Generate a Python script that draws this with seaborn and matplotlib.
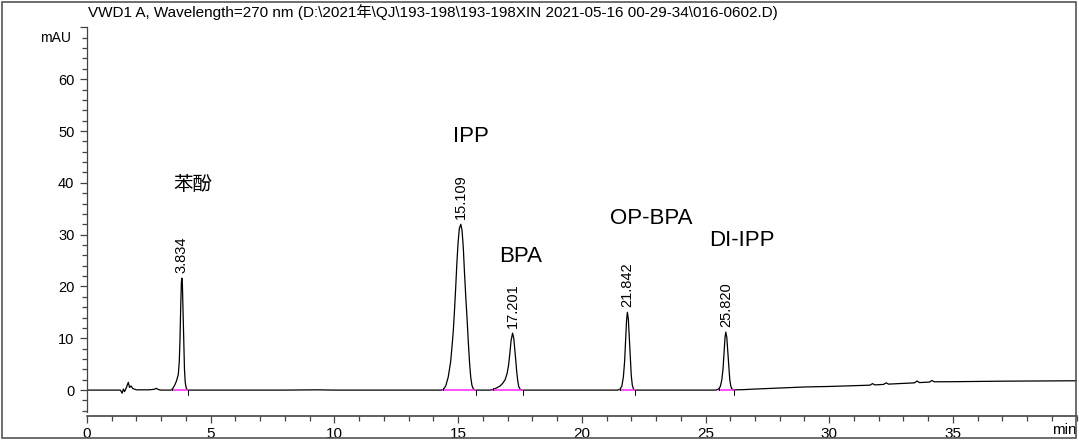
import matplotlib
matplotlib.use("Agg")
import matplotlib.pyplot as plt
import seaborn as sns
import pandas as pd
from matplotlib.ticker import MultipleLocator, FixedLocator
from matplotlib.patches import Rectangle

# ---------------- data ----------------
trace_time = [0.00, 1.00, 1.35, 1.42, 1.47, 1.52, 1.60, 1.67, 1.72, 1.78, 1.85, 2.00, 2.50, 2.72, 2.80, 2.88, 3.00,
              3.40, 3.48, 3.55, 3.62, 3.69, 3.73, 3.76, 3.79, 3.815, 3.834, 3.855, 3.88, 3.91, 3.94, 3.97, 4.01, 4.06,
              8.00, 9.30, 10.00,
              14.30, 14.40, 14.50, 14.60, 14.70, 14.80, 14.85, 14.90, 14.95, 15.00, 15.05, 15.109, 15.16, 15.21, 15.26,
              15.31, 15.36, 15.41, 15.46, 15.51, 15.56, 15.62, 15.70,
              16.30, 16.40, 16.55, 16.70, 16.80, 16.90, 16.98, 17.04, 17.09, 17.14, 17.201, 17.25, 17.29, 17.33, 17.37,
              17.41, 17.45, 17.50, 17.58,
              21.45, 21.55, 21.62, 21.68, 21.73, 21.77, 21.81, 21.842, 21.88, 21.92, 21.96, 22.00, 22.04, 22.09, 22.15,
              25.43, 25.53, 25.60, 25.66, 25.71, 25.75, 25.79, 25.820, 25.86, 25.90, 25.94, 25.98, 26.02, 26.07, 26.15,
              26.50, 27.00, 28.00, 29.00, 30.00, 31.00, 31.65, 31.75, 31.85, 32.20, 32.30, 32.40, 33.00, 33.45, 33.55,
              33.65, 34.05, 34.15, 34.25, 35.00, 36.00, 37.00, 38.00, 39.00, 40.00]
trace_mau = [0.00, 0.00, 0.00, -0.6, 0.2, -0.3, 0.6, 1.5, 0.5, 0.8, 0.3, 0.05, 0.05, 0.15, 0.35, 0.10, 0.00,
             0.00, 0.4, 1.0, 1.8, 3.0, 5.5, 10.0, 16.5, 20.8, 21.6, 20.5, 15.5, 9.0, 4.0, 1.5, 0.4, 0.0,
             0.0, 0.05, 0.0,
             0.0, 0.1, 0.8, 2.5, 5.5, 11.0, 15.0, 19.5, 24.5, 28.5, 31.2, 32.0, 30.8, 27.5, 22.5,
             18.0, 14.0, 9.5, 5.5, 2.5, 0.9, 0.2, 0.0,
             0.0, 0.1, 0.4, 0.8, 1.3, 2.0, 3.2, 4.8, 7.0, 9.5, 11.0, 10.0, 8.0, 5.8, 3.5,
             1.8, 0.7, 0.2, 0.0,
             0.0, 0.2, 0.8, 2.5, 5.5, 9.5, 13.5, 15.0, 13.8, 10.0, 6.0, 2.8, 1.0, 0.2, 0.0,
             0.0, 0.2, 0.7, 2.0, 4.2, 7.2, 10.2, 11.2, 10.2, 7.5, 4.5, 2.1, 0.8, 0.2, 0.05,
             0.08, 0.20, 0.40, 0.60, 0.70, 0.85, 0.95, 1.25, 1.00, 1.10, 1.40, 1.15, 1.30, 1.40, 1.75,
             1.45, 1.55, 1.85, 1.60, 1.62, 1.68, 1.72, 1.75, 1.78, 1.80]

peak_rt = [3.834, 15.109, 17.201, 21.842, 25.820]
peak_height = [21.6, 32.0, 11.0, 15.0, 11.2]
peak_labels = ["3.834", "15.109", "17.201", "21.842", "25.820"]

integ_start = [3.42, 14.40, 16.40, 21.55, 25.55]
integ_end = [4.08, 15.72, 17.62, 22.15, 26.15]

compound_names = ["苯酚", "IPP", "BPA", "OP-BPA", "DI-IPP"]
compound_x = [4.28, 15.50, 17.54, 22.80, 26.48]
compound_y = [39.6, 49.0, 25.7, 33.2, 28.8]

x_major_ticks = [0, 5, 10, 15, 20, 25, 30, 35]
y_major_ticks = [0, 10, 20, 30, 40, 50, 60, 70]
y_tick_labels = ["0", "10", "20", "30", "40", "50", "60", ""]

title = "VWD1 A, Wavelength=270 nm (D:\\2021年\\QJ\\193-198\\193-198XIN 2021-05-16 00-29-34\\016-0602.D)"

# ---------------- style ----------------
sns.set_style("ticks")
plt.rcParams["font.family"] = ["Liberation Sans", "Noto Sans CJK SC"]
plt.rcParams["text.color"] = "black"
plt.rcParams["xtick.labelcolor"] = "black"
plt.rcParams["ytick.labelcolor"] = "black"

W, H = 1079, 448
fig = plt.figure(figsize=(W / 100, H / 100), dpi=100)
x0_px, x40_px = 87, 1076.6
y70_px, ybot_px = 27.4, 416
ax = fig.add_axes([x0_px / W, 1 - ybot_px / H, (x40_px - x0_px) / W, (ybot_px - y70_px) / H])
ax.set_facecolor("none")

df = pd.DataFrame({"time": trace_time, "mAU": trace_mau})
sns.lineplot(data=df, x="time", y="mAU", ax=ax, color="black", lw=0.9, sort=False, estimator=None)

# integration baselines and markers
for s, e in zip(integ_start, integ_end):
    ax.plot([s, e], [0, 0], color="#ff33ff", lw=1.2, zorder=3)
    ax.plot([s, s], [0, 0.5], color="black", lw=0.7, zorder=4)
    ax.plot([e, e], [0, -1.0], color="black", lw=0.7, zorder=4)

# retention-time labels
for rt, h, lab in zip(peak_rt, peak_height, peak_labels):
    ax.text(rt, h + 1.0, lab, rotation=90, ha="center", va="bottom", fontsize=10.5, color="black")

# compound names
for name, cx, cy in zip(compound_names, compound_x, compound_y):
    if name == "苯酚":
        ax.text(cx, cy, name, ha="center", va="center", fontsize=14, color="black",
                family=["Noto Sans CJK SC", "Liberation Sans"], fontweight="light")
    else:
        ax.text(cx, cy, name, ha="center", va="center", fontsize=16, color="black")

ax.set_xlim(0, 40)
ax.set_ylim(-5, 70)
ax.xaxis.set_major_locator(FixedLocator(x_major_ticks))
ax.xaxis.set_minor_locator(MultipleLocator(1))
ax.yaxis.set_major_locator(FixedLocator(y_major_ticks))
ax.set_yticklabels(y_tick_labels)
ax.yaxis.set_minor_locator(FixedLocator([v for v in range(-4, 70, 2) if v % 10 != 0]))
ax.tick_params(axis="x", which="major", length=5, width=0.9, labelsize=11, pad=3, color="#444444", labelcolor="black")
ax.tick_params(axis="x", which="minor", length=3.5, width=0.9, color="#444444")
ax.tick_params(axis="y", which="major", length=5, width=0.9, labelsize=10.5, pad=4, color="#444444", labelcolor="black")
ax.tick_params(axis="y", which="minor", length=3.5, width=0.9, color="#444444")
ax.set_xlabel("")
ax.set_ylabel("")
for side in ["top", "right"]:
    ax.spines[side].set_visible(False)
ax.spines["left"].set_bounds(-4.3, 70)
ax.spines["left"].set_color("#444444")
ax.spines["bottom"].set_color("#444444")
ax.spines["left"].set_linewidth(0.9)
ax.spines["bottom"].set_linewidth(1.2)

fig.text(88 / W, 1 - 12 / H, title, ha="left", va="center", fontsize=11, color="black")
fig.text(71 / W, 1 - 37.5 / H, "mAU", ha="right", va="center", fontsize=10, color="black")
fig.text(1052 / W, 1 - 430 / H, "min", ha="left", va="center", fontsize=11, color="black")

# outer frame
fig.patches.append(Rectangle((2 / W, 1 - 438 / H), (1076 - 2) / W, (438 - 2) / H, transform=fig.transFigure,
                             fill=False, edgecolor="#555555", lw=1.2, zorder=11))

fig.savefig("out.png", dpi=100)
